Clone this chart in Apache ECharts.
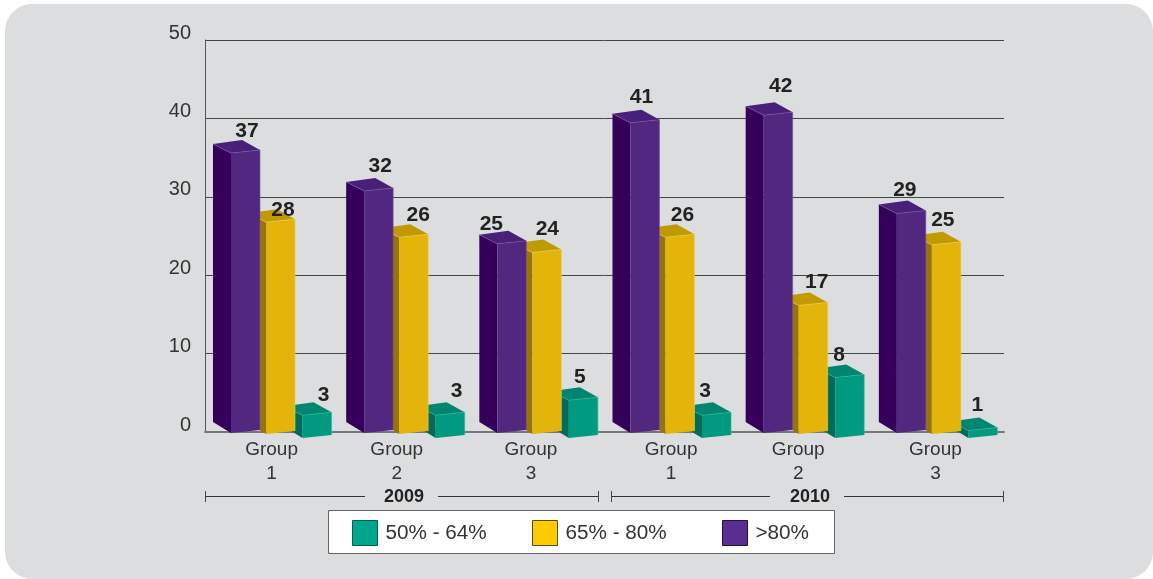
<!DOCTYPE html>
<html lang="en">
<head>
    <meta charset="UTF-8">
    <title>Groups 2009 - 2010</title>
    <script src="https://cdn.jsdelivr.net/npm/echarts@6/dist/echarts.min.js"></script>
    <style>
        html, body { margin: 0; padding: 0; background: #fff; }
    </style>
</head>
<body>
 <div id="myChart" style="width: 1153px;height: 579px;"></div>
 <script>
     var categories = ['Group\n1', 'Group\n2', 'Group\n3', 'Group\n1', 'Group\n2', 'Group\n3'];
     var seriesNames = ['50% - 64%', '65% - 80%', '>80%'];
     var low = [3, 3, 5, 3, 8, 1];
     var mid = [28, 26, 24, 26, 17, 25];
     var high = [37, 32, 25, 41, 42, 29];
     var yearLabels = ['2009', '2010'];

     var font = '"Liberation Sans", Arial, sans-serif';

     // face colours of each bar: front, side, top
     var faces = [
         {front: '#009a80', side: '#006b5a', top: '#008670', edge: '#2fb39c'},
         {front: '#e3b40a', side: '#967508', top: '#c09a00', edge: '#f0cc50'},
         {front: '#52277f', side: '#35005a', top: '#48207a', edge: '#7a55a5'}
     ];
     var legendColors = [
         {color: '#00a58c', border: '#00614f'},
         {color: '#ffcb05', border: '#5c4a00'},
         {color: '#5a2d91', border: '#241040'}
     ];

     // where the front face starts inside a group, and how far below the axis it stands
     var frontStart = [97.5, 61, 26];
     var baseDrop = [6, 2, 1];
     var frontWidth = 29;
     var depthX = 18, depthY = 9, slope = 3;
     var heightScale = 0.965; //bars are a bit shorter than the axis scale, the picture is in perspective

     // hand placed value labels, measured from the top left corner of the front face
     var labelNudge = [
         [[21, -20], [21, -24], [11, -23], [3, -24], [4, -22], [9, -25]],
         [[17, -12], [19, -22], [15, -23], [17, -22], [18, -23], [11, -25]],
         [[16, -22], [16, -25], [-6, -20], [11, -26], [17, -29], [8, -23]]
     ];

     function makeBar(s) {
         return function (params, api) {
             var i = api.value(0);
             var v = api.value(1);
             var center = api.coord([i, v]);
             var zero = api.coord([i, 0]);
             var band = api.size([1, 0])[0];
             var x = center[0] - band / 2 + frontStart[s];
             var bottom = zero[1] + baseDrop[s];
             var top = bottom - (zero[1] - center[1]) * heightScale;
             var f = faces[s];
             var w = frontWidth;
             var front = [[x, top], [x + w, top - slope], [x + w, bottom - slope], [x, bottom]];
             var side = [[x - depthX, top - depthY], [x, top], [x, bottom], [x - depthX, bottom - depthY - 2]];
             var cap = [[x - depthX, top - depthY], [x - depthX + w, top - depthY - slope - 1], [x + w, top - slope], [x, top]];
             var nudge = labelNudge[s][i];
             return {
                 type: 'group',
                 children: [
                     {type: 'polygon', shape: {points: side}, style: {fill: f.side}},
                     {type: 'polygon', shape: {points: cap}, style: {fill: f.top}},
                     {type: 'polygon', shape: {points: front}, style: {fill: f.front}},
                     {type: 'polyline', shape: {points: [[x - depthX, top - depthY], [x, top], [x + w, top - slope], [x + w, bottom - slope]]},
                         style: {fill: 'none', stroke: f.edge, lineWidth: 0.6}},
                     {type: 'text', z2: 50, style: {
                         text: String(v),
                         x: x + nudge[0],
                         y: top + nudge[1],
                         align: 'center',
                         verticalAlign: 'middle',
                         fill: '#222',
                         font: 'bold 21px ' + font
                     }}
                 ]
             };
         };
     }

     function pairs(list) {
         return list.map(function (v, i) { return [i, v]; });
     }

     // group labels do not sit exactly on the middle of their band in the picture
     var labelShift = [0, 16, 14, 0, 12, 4];
     var richLabels = {};
     labelShift.forEach(function (p, i) {
         richLabels['c' + i] = {
             fontFamily: font,
             fontSize: 19,
             lineHeight: 24,
             color: '#333',
             padding: [0, p, 0, 0]
         };
     });

     function legendItem(i, left) {
         return {
             left: left,
             top: 520,
             padding: 0,
             itemWidth: 25,
             itemHeight: 25,
             itemGap: 0,
             icon: 'rect',
             selectedMode: false,
             textStyle: {fontFamily: font, fontSize: 20.7, color: '#333', padding: [2, 0, 0, 3]},
             data: [{
                 name: seriesNames[i],
                 itemStyle: {color: legendColors[i].color, borderColor: legendColors[i].border, borderWidth: 1}
             }]
         };
     }

     function bracketLine(x1, x2) {
         return {type: 'line', shape: {x1: x1, y1: 496.5, x2: x2, y2: 496.5}, style: {stroke: '#333', lineWidth: 1}};
     }
     function bracketTick(x) {
         return {type: 'line', shape: {x1: x, y1: 491, x2: x, y2: 502}, style: {stroke: '#444', lineWidth: 1}};
     }
     function yearText(t, x) {
         return {type: 'text', style: {text: t, x: x, y: 497, align: 'center', verticalAlign: 'middle', fill: '#222', font: 'bold 18px ' + font}};
     }

     var option = {
         animation: false,
         backgroundColor: '#fff',
         grid: {left: 205, right: 149, top: 40, bottom: 147, containLabel: false},
         xAxis: [
             {
                 type: 'category',
                 data: categories,
                 position: 'bottom',
                 axisLine: {lineStyle: {color: '#777', width: 2}},
                 axisTick: {alignWithLabel: false, length: 5, lineStyle: {color: '#444', width: 1}},
                 axisLabel: {
                     margin: 6,
                     interval: 0,
                     formatter: function (value, index) {
                         return value.split('\n').map(function (t) {
                             return '{c' + index + '|' + t + '}';
                         }).join('\n');
                     },
                     rich: richLabels
                 }
             },
             {
                 type: 'category',
                 data: categories,
                 position: 'bottom',
                 axisLine: {show: false},
                 axisTick: {inside: true, length: 5, lineStyle: {color: '#444', width: 1}},
                 axisLabel: {show: false}
             }
         ],
         yAxis: {
             type: 'value',
             min: 0,
             max: 50,
             interval: 10,
             axisLine: {show: true, lineStyle: {color: '#555', width: 1}},
             axisTick: {show: false},
             axisLabel: {
                 margin: 14,
                 fontFamily: font,
                 fontSize: 20,
                 color: '#333',
                 verticalAlign: 'bottom',
                 lineHeight: 14
             },
             splitLine: {lineStyle: {color: '#444', width: 1}}
         },
         legend: [legendItem(0, 352), legendItem(1, 532), legendItem(2, 722)],
         graphic: [
             {type: 'rect', z: -10, shape: {x: 5, y: 4, width: 1148, height: 575, r: 27}, style: {fill: '#dcddde'}},
             {type: 'rect', z: -1, shape: {x: 328.5, y: 510.5, width: 506, height: 43}, style: {fill: '#fff', stroke: '#666', lineWidth: 1}},
             bracketLine(205, 365), bracketLine(438, 598), bracketLine(611, 770), bracketLine(844, 1004),
             bracketTick(205.5), bracketTick(598.5), bracketTick(611.5), bracketTick(1003.5),
             yearText(yearLabels[0], 404), yearText(yearLabels[1], 810)
         ],
         series: [
             {name: seriesNames[0], type: 'custom', renderItem: makeBar(0), data: pairs(low), encode: {x: 0, y: 1}, itemStyle: {color: legendColors[0].color}},
             {name: seriesNames[1], type: 'custom', renderItem: makeBar(1), data: pairs(mid), encode: {x: 0, y: 1}, itemStyle: {color: legendColors[1].color}},
             {name: seriesNames[2], type: 'custom', renderItem: makeBar(2), data: pairs(high), encode: {x: 0, y: 1}, itemStyle: {color: legendColors[2].color}}
         ]
     };

     var myChart = echarts.init(document.getElementById('myChart'));
     myChart.setOption(option);
 </script>
</body>
</html>
